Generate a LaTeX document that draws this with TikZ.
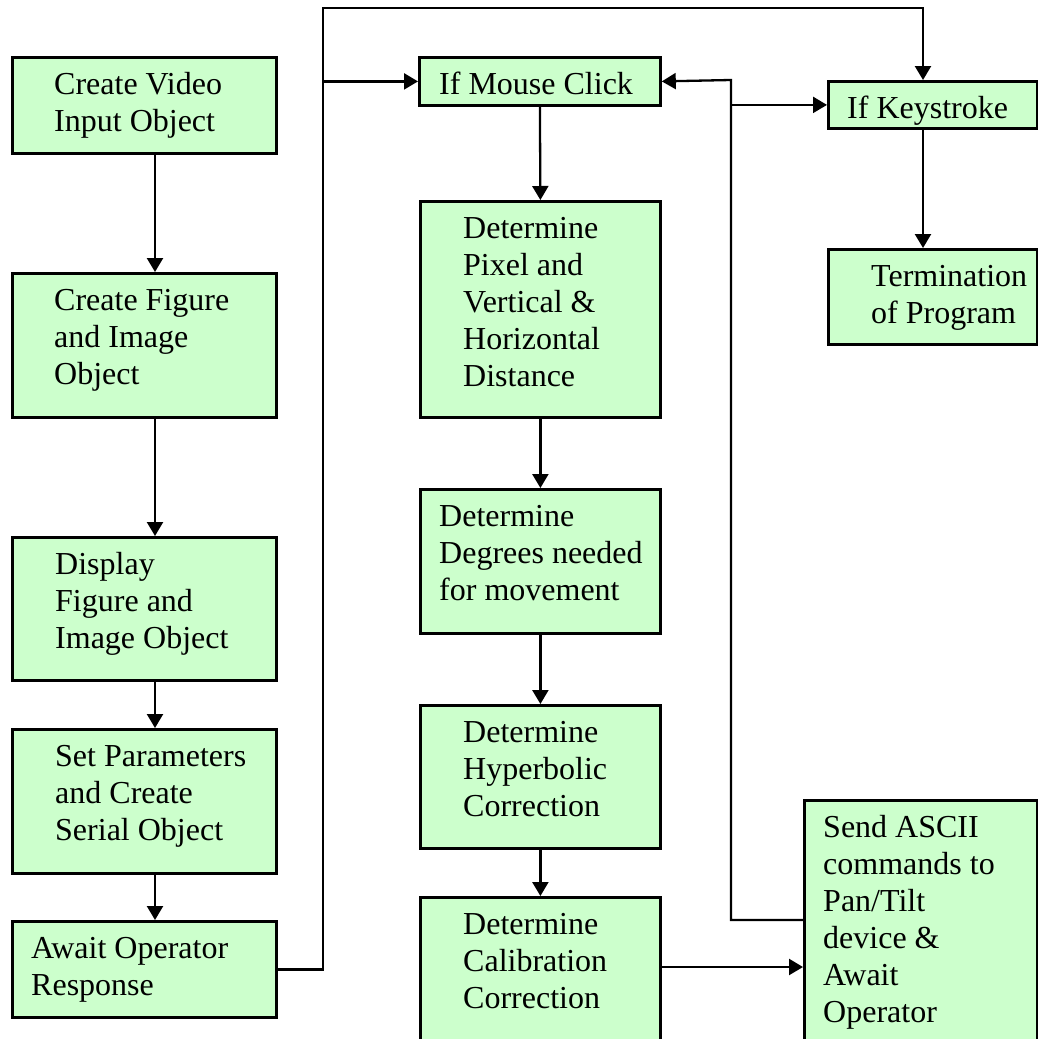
\documentclass[tikz,border=0pt]{standalone}
\usepackage{fontspec}
\setmainfont{Liberation Serif}
\usetikzlibrary{arrows.meta}
\definecolor{boxgreen}{HTML}{CCFFCC}
\tikzset{
  box/.style={draw=black, fill=boxgreen, line width=2.8pt, rectangle, anchor=north west, inner sep=0pt},
  txt/.style={anchor=base west, inner sep=0pt, font=\fontsize{32}{37}\selectfont},
  arr/.style={line width=2.3pt, -{Triangle[length=14pt,width=16pt]}},
}
% box: name, x, y, width, height, text indent, text
\newcommand{\flowbox}[7]{%
  \node[box, minimum width=#4, minimum height=#5] (#1) at (#2,#3) {};
  \node[txt] (#1-t) at (#2+#6,#3+38) {\begin{tabular}[t]{@{}l@{}}#7\end{tabular}};
}
\begin{document}
\begin{tikzpicture}[x=1pt,y=-1pt]
\useasboundingbox (0,0) rectangle (1038,1039);
\clip (0,0) rectangle (1038,1039);

% left column: set-up steps
\flowbox{n1}{11}{56}{264}{96}{43}{Create Video\\Input Object}
\flowbox{n2}{11}{272}{264}{144}{43}{Create Figure\\and Image\\Object}
\flowbox{n3}{11}{536}{264}{143}{44}{Display\\Figure and\\Image Object}
\flowbox{n4}{11}{728}{264}{144}{44}{Set Parameters\\and Create\\Serial Object}
\flowbox{n5}{11}{920}{264}{96}{20}{Await Operator\\Response}

% middle column: mouse click handling
\flowbox{n6}{418}{56}{241}{48}{21}{If Mouse Click}
\flowbox{n7}{419}{200}{240}{216}{44}{Determine\\Pixel and\\Vertical \&\\Horizontal\\Distance}
\flowbox{n8}{419}{488}{240}{144}{20}{Determine\\Degrees needed\\for movement}
\flowbox{n9}{419}{704}{240}{143}{44}{Determine\\Hyperbolic\\Correction}
\flowbox{n10}{419}{896}{240}{170}{44}{Determine\\Calibration\\Correction}

% right column: keystroke and output
\flowbox{n11}{827}{80}{209}{47}{20}{If Keystroke}
\flowbox{n12}{827}{248}{209}{95}{44}{Termination\\of Program}
\flowbox{n13}{803}{799}{233}{270}{20}{Send ASCII\\commands to\\Pan/Tilt\\device \&\\Await\\Operator}

% routing coordinates
\coordinate (xa) at (155,0);
\coordinate (xc) at (923,0);
\coordinate (jtl) at (323,8);
\coordinate (jr) at (731,80);
\coordinate (yr) at (0,967);
\coordinate (yf) at (0,920);

% left column flow
\draw[arr] (n1.south -| xa) -- (n2.north -| xa);
\draw[arr] (n2.south -| xa) -- (n3.north -| xa);
\draw[arr] (n3.south -| xa) -- (n4.north -| xa);
\draw[arr] (n4.south -| xa) -- (n5.north -| xa);

% operator response to both event checks
\draw[arr] (n5.east) -| (jtl) -| (n11.north -| xc);
\draw[arr] (n6.west -| jtl) -- (n6.west);

% middle column flow
\draw[arr] (n6.south) -- (n7.north);
\draw[arr] (n7.south) -- (n8.north);
\draw[arr] (n8.south) -- (n9.north);
\draw[arr] (n9.south) -- (n10.north);
\draw[arr] (n10.east |- yr) -- (n13.west |- yr);

% loop back from the command step
\draw[arr] (n13.west |- yf) -| (jr) -- (n6.east);
\draw[arr] (n11.west -| jr) -- (n11.west);

% keystroke ends the program
\draw[arr] (n11.south -| xc) -- (n12.north -| xc);
\end{tikzpicture}
\end{document}
